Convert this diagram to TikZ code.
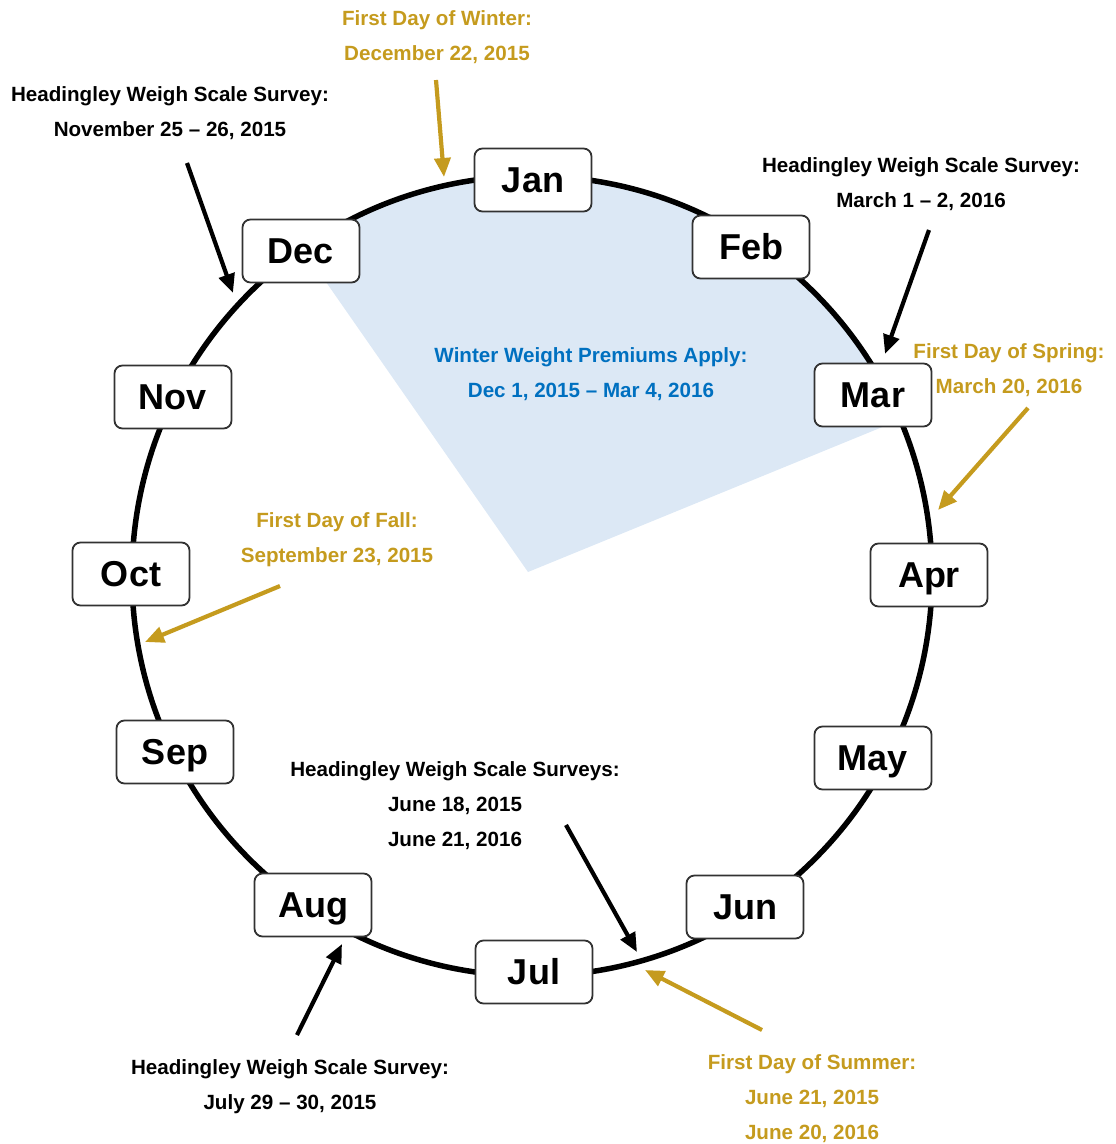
\documentclass[tikz,border=0pt]{standalone}
\usepackage{fontspec}
\setmainfont{Liberation Sans}
\usetikzlibrary{arrows.meta}
\definecolor{gold}{RGB}{197,155,30}
\definecolor{premblue}{RGB}{0,112,192}
\definecolor{wedge}{RGB}{220,232,245}
\definecolor{boxline}{RGB}{50,50,50}
\begin{document}
\begin{tikzpicture}[x=1pt,y=-1pt,
 month/.style={draw=boxline, line width=1.8pt, rounded corners=8pt, fill=white,
   minimum width=117pt, minimum height=63pt, inner sep=0pt,
   text height=25.8pt, text depth=0pt,
   font=\fontsize{36}{40}\selectfont\bfseries},
 lbl/.style={align=center, font=\fontsize{20.6}{35}\selectfont\bfseries, inner sep=0pt},
 arr/.style={line width=4.2pt, -{Triangle[length=19pt,width=16pt]}},
]
\useasboundingbox (0,0) rectangle (1116,1144);
\coordinate (ctr) at (532,576);
\coordinate (apex) at (528,572);
% winter wedge
\fill[wedge] (ctr) ++(-23:400) arc[start angle=-23,end angle=-125,radius=400] -- (apex) -- cycle;
% circle
\draw[line width=5.5pt] (ctr) circle[radius=400];
% months
\node[month] (jan) at (533,180) {Jan};
\node[month] (feb) at (751,247) {Feb};
\node[month] (mar) at (873,395) {Mar};
\node[month] (apr) at (929,575) {Apr};
\node[month] (may) at (873,758) {May};
\node[month] (jun) at (745,907) {Jun};
\node[month] (jul) at (534,972) {Jul};
\node[month] (aug) at (313,905) {Aug};
\node[month] (sep) at (175,752) {Sep};
\node[month] (oct) at (131,574) {Oct};
\node[month] (nov) at (173,397) {Nov};
\node[month] (dec) at (301,251) {Dec};
% labels
\node[lbl,text=gold] (winter) at (437,37) {First Day of Winter:\\December 22, 2015};
\node[lbl] (survnov) at (170,113) {Headingley Weigh Scale Survey:\\November 25 – 26, 2015};
\node[lbl] (survmar) at (921,184) {Headingley Weigh Scale Survey:\\March 1 – 2, 2016};
\node[lbl,text=gold] (spring) at (1009,370) {First Day of Spring:\\March 20, 2016};
\node[lbl,text=premblue] (premium) at (591,374) {Winter Weight Premiums Apply:\\Dec 1, 2015 – Mar 4, 2016};
\node[lbl,text=gold] (fall) at (337,540) {First Day of Fall:\\September 23, 2015};
\node[lbl] (survjun) at (455,806) {Headingley Weigh Scale Surveys:\\June 18, 2015\\June 21, 2016};
\node[lbl] (survjul) at (290,1087) {Headingley Weigh Scale Survey:\\July 29 – 30, 2015};
\node[lbl,text=gold] (summer) at (812,1099) {First Day of Summer:\\June 21, 2015\\June 20, 2016};
% arrow end points
\coordinate (w1) at (436,80);   \coordinate (w2) at (444,177);
\coordinate (n1) at (187,163);  \coordinate (n2) at (233,293);
\coordinate (m1) at (929,230);  \coordinate (m2) at (885,354);
\coordinate (s1) at (1028,408); \coordinate (s2) at (938,510);
\coordinate (f1) at (280,586);  \coordinate (f2) at (145,642);
\coordinate (j1) at (566,825);  \coordinate (j2) at (637,952);
\coordinate (u1) at (762,1030); \coordinate (u2) at (645,970);
\coordinate (l1) at (297,1035); \coordinate (l2) at (342,944);
% arrows
\draw[arr,gold] (w1) -- (w2);
\draw[arr] (n1) -- (n2);
\draw[arr] (m1) -- (m2);
\draw[arr,gold] (s1) -- (s2);
\draw[arr,gold] (f1) -- (f2);
\draw[arr] (j1) -- (j2);
\draw[arr,gold] (u1) -- (u2);
\draw[arr] (l1) -- (l2);
\end{tikzpicture}
\end{document}
